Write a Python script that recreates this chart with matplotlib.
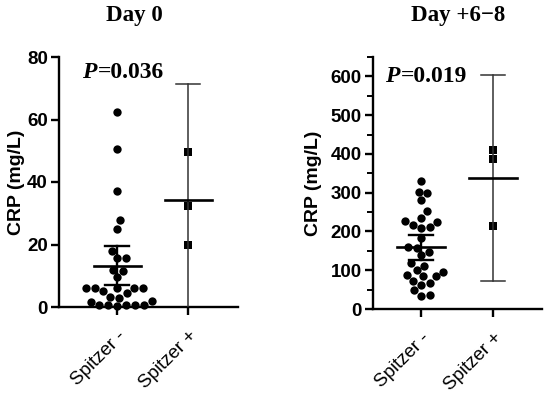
import numpy as np
import matplotlib
matplotlib.use("Agg")
import matplotlib.pyplot as plt
from matplotlib.ticker import MultipleLocator

# ---------------- data ----------------
categories = ["Spitzer -", "Spitzer +"]

day0_neg = [62.4, 50.6, 37.1, 27.7, 25.1, 18.0, 15.8, 15.8, 12.0, 11.5, 9.5,
            6.2, 6.2, 6.2, 6.2, 6.0, 5.0, 4.5, 3.2, 3.0, 2.0, 1.5,
            0.5, 0.5, 0.5, 0.5, 0.5, 0.3]
day0_pos = [49.6, 32.4, 20.0]
day0_mean = [13.2, 34.3]
day0_low = [7.0, -2.7]
day0_high = [19.4, 71.3]

day6_neg = [331, 303, 298, 281, 253, 235, 228, 225, 216, 212, 210, 182, 160,
            158, 148, 138, 118, 112, 100, 95, 88, 84, 84, 72, 68, 62, 48, 35, 34]
day6_pos = [411, 388, 214]
day6_mean = [159, 339]
day6_low = [127, 72]
day6_high = [192, 604]

titles = ["Day 0", "Day +6\u22128"]
pvals = ["0.036", "0.019"]
ylabel = "CRP (mg/L)"

SANS = "Liberation Sans"
SERIF = "Liberation Serif"

fig = plt.figure(figsize=(5.5, 3.97), dpi=100)
W, H = 550, 397


def swarm_offsets(vals, ax_h_px, yrange, x_px_per_unit, diam):
    """simple beeswarm: returns x offsets in data units"""
    ypx = np.asarray(vals, float) * ax_h_px / yrange
    order = np.argsort(ypx)
    placed = []
    offs = np.zeros(len(vals))
    steps = [0.0]
    for k in range(1, 300):
        steps += [k * 0.5, -k * 0.5]
    for i in order:
        for s in steps:
            ok = True
            for (px, py) in placed:
                if (px - s) ** 2 + (py - ypx[i]) ** 2 < diam ** 2:
                    ok = False
                    break
            if ok:
                offs[i] = s
                placed.append((s, ypx[i]))
                break
    return offs / x_px_per_unit


def ptext(x, y, val):
    fig.text(x / W, 1 - y / H, "P", ha="left", va="center",
             fontfamily=SERIF, fontweight="bold", fontstyle="italic",
             fontsize=17)
    fig.text((x + 15.5) / W, 1 - y / H, "=" + val, ha="left", va="center",
             fontfamily=SERIF, fontweight="bold", fontsize=17)


def build(rect_px, ylim, major, minor, neg, pos, mean, low, high, title,
          pval, title_x, px, py, ylabel_x, xlim):
    l, t, r, b = rect_px
    ax = fig.add_axes([l / W, 1 - b / H, (r - l) / W, (b - t) / H])
    ax.set_xlim(*xlim)
    ax.set_ylim(*ylim)
    for s in ["top", "right"]:
        ax.spines[s].set_visible(False)
    for s in ["left", "bottom"]:
        ax.spines[s].set_linewidth(1.7)
    ax.yaxis.set_major_locator(MultipleLocator(major))
    if minor:
        ax.yaxis.set_minor_locator(MultipleLocator(minor))
        ax.tick_params(axis="y", which="minor", length=4, width=1.4)
    ax.tick_params(axis="y", which="major", length=6, width=1.7,
                   labelsize=13.5, pad=2)
    ax.tick_params(axis="x", length=6, width=1.7, labelsize=13.5, pad=9)
    ax.set_xticks([0, 1])
    ax.set_xticklabels(categories, rotation=45, ha="right",
                       rotation_mode="anchor", fontfamily=SANS)
    for lab in ax.get_yticklabels():
        lab.set_fontfamily(SANS)
        lab.set_fontweight("bold")

    ax_h_px = b - t
    x_ppu = (r - l) / (xlim[1] - xlim[0])
    offs = swarm_offsets(neg, ax_h_px, ylim[1] - ylim[0], x_ppu, 8.6)
    ax.scatter(0 + offs, neg, s=36, marker="o", color="black",
               linewidths=0, zorder=3, clip_on=False)
    ax.scatter([1] * len(pos), pos, s=34, marker="s", color="black",
               linewidths=0, zorder=3)

    lws = [1.7, 1.1]
    cols = ["black", "#333333"]
    for i in range(2):
        lo = max(low[i], ylim[0])
        ax.plot([i, i], [lo, high[i]], color=cols[i], lw=lws[i], zorder=4)
        for v in (low[i], high[i]):
            if v >= ylim[0]:
                ax.plot([i - 0.17, i + 0.17], [v, v], color=cols[i],
                        lw=lws[i], zorder=4)
        ax.plot([i - 0.33, i + 0.33], [mean[i], mean[i]], color="black",
                lw=1.9, zorder=5)

    fig.text(title_x / W, 1 - 16 / H, title, ha="center", va="center",
             fontfamily=SERIF, fontweight="bold", fontsize=16.5)
    ptext(px, py, pval)
    fig.text(ylabel_x / W, 1 - ((t + b) / 2) / H, ylabel, rotation=90,
             ha="center", va="center", fontfamily=SANS, fontweight="bold",
             fontsize=14)
    return ax


build((59, 57, 238, 307), (0, 80), 20, None, day0_neg, day0_pos, day0_mean,
      day0_low, day0_high, titles[0], pvals[0], 134, 82, 73, 17, (-0.82, 1.70))
build((373, 57, 542, 309), (0, 650), 100, 50, day6_neg, day6_pos, day6_mean,
      day6_low, day6_high, titles[1], pvals[1], 458, 385, 76, 313, (-0.67, 1.68))

fig.savefig("out.png", dpi=100)
